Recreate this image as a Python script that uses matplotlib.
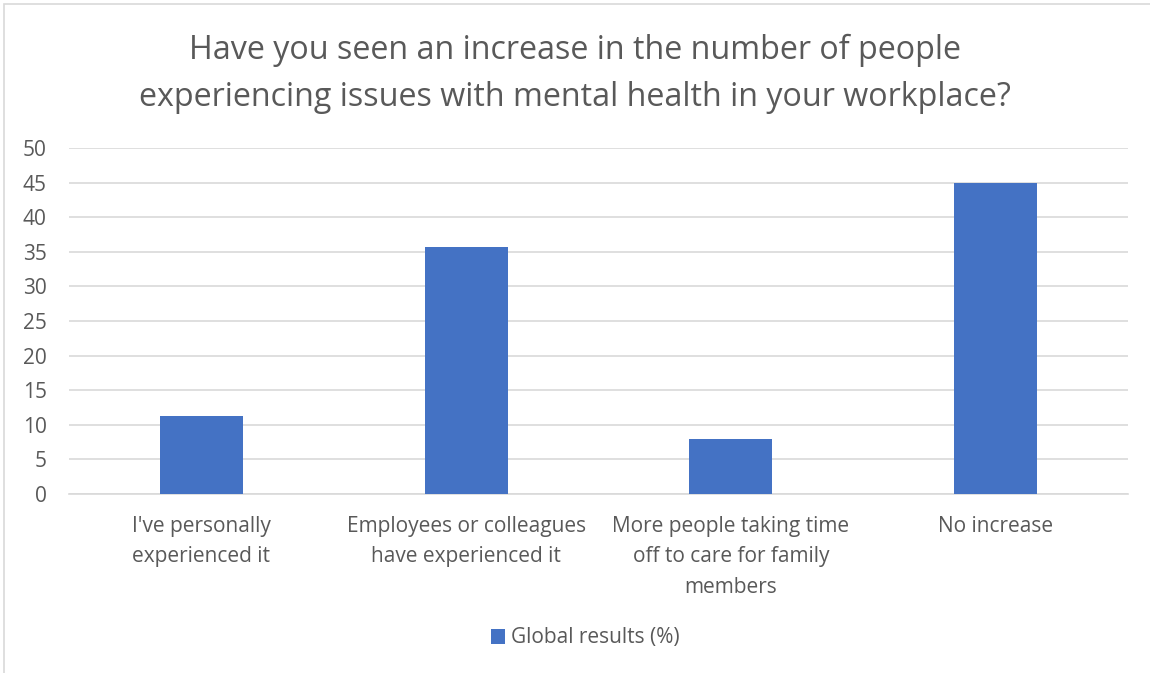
import matplotlib
matplotlib.use("Agg")
import matplotlib.pyplot as plt
from matplotlib.patches import Rectangle

categories = ["I've personally\nexperienced it",
              "Employees or colleagues\nhave experienced it",
              "More people taking time\noff to care for family\nmembers",
              "No increase"]
values = [11.3, 35.7, 7.9, 44.9]
series_name = "Global results (%)"
yticks = [0, 5, 10, 15, 20, 25, 30, 35, 40, 45, 50]
title = "Have you seen an increase in the number of people\nexperiencing issues with mental health in your workplace?"

plt.rcParams['font.family'] = ['Open Sans', 'DejaVu Sans']
txt = '#595959'
grid = '#d9d9d9'

fig = plt.figure(figsize=(11.5, 6.73), dpi=100)
fig.patches.append(Rectangle((4/1150, -0.01), 1.2, 1 - 4/673 + 0.01, transform=fig.transFigure,
                             fill=False, edgecolor=grid, linewidth=1.2))
ax = fig.add_axes([69/1150, 1 - 494/673, (1128 - 69)/1150, (494 - 148)/673])

x = range(len(categories))
ax.bar(x, values, width=0.313, color='#4472c4', label=series_name, zorder=3)
ax.set_xlim(-0.5, len(categories) - 0.5)
ax.set_ylim(0, 50)
ax.set_yticks(yticks)
ax.set_yticklabels([str(v) for v in yticks])
ax.set_xticks(list(x))
ax.set_xticklabels(categories, linespacing=1.62)
ax.tick_params(axis='both', length=0, colors=txt, labelsize=15)
ax.tick_params(axis='y', pad=16)
ax.tick_params(axis='x', pad=15.5)
for lab in ax.get_yticklabels():
    lab.set_horizontalalignment('right')
ax.yaxis.grid(True, color=grid, linewidth=1.2, zorder=0)
for s in ['left', 'right', 'top']:
    ax.spines[s].set_visible(False)
ax.spines['bottom'].set_color(grid)
ax.spines['bottom'].set_linewidth(1.2)

fig.text(0.5, 1 - 74/673, title, ha='center', va='center', fontsize=23.2, color=txt, linespacing=1.55)

leg = fig.legend(loc='center', bbox_to_anchor=(0.5 + 10/1150, 1 - 638/673), frameon=False,
                 fontsize=15, handlelength=0.7, handleheight=0.7, handletextpad=0.25)
for t in leg.get_texts():
    t.set_color(txt)

fig.savefig('out.png', dpi=100)
